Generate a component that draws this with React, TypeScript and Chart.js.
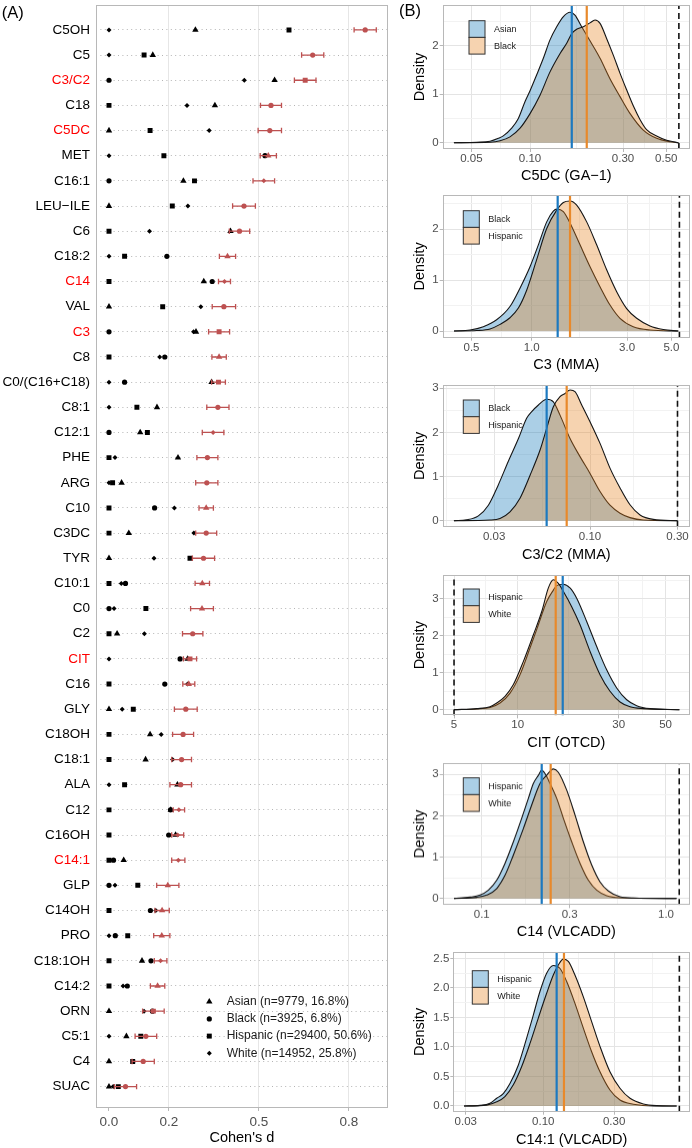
import React, { useEffect, useRef } from 'react';
import { Chart, registerables } from 'chart.js';
Chart.register(...registerables);

const FONT = '"Liberation Sans", Arial, Helvetica, sans-serif';
const RED = '#BD5151';
const BORDER = '#B8B8B8';
const GRID_MAJOR = '#E4E4E4';
const GRID_MINOR = '#F2F2F2';
const TICK_TEXT = '#4D4D4D';
const LINE_BLUE = '#1C79C0';
const LINE_ORANGE = '#E8892B';
const FILL_BLUE = 'rgba(0,110,180,0.33)';
const FILL_ORANGE = 'rgba(230,130,30,0.35)';

// ---------------- Panel A data ----------------
const categories = ['C5OH', 'C5', 'C3/C2', 'C18', 'C5DC', 'MET', 'C16:1', 'LEU\u2212ILE', 'C6', 'C18:2', 'C14', 'VAL', 'C3', 'C8', 'C0/(C16+C18)', 'C8:1', 'C12:1', 'PHE', 'ARG', 'C10', 'C3DC', 'TYR', 'C10:1', 'C0', 'C2', 'CIT', 'C16', 'GLY', 'C18OH', 'C18:1', 'ALA', 'C12', 'C16OH', 'C14:1', 'GLP', 'C14OH', 'PRO', 'C18:1OH', 'C14:2', 'ORN', 'C5:1', 'C4', 'SUAC'];
const highlighted = ['C3/C2', 'C5DC', 'C14', 'C3', 'CIT', 'C14:1'];
const asianD = [0.288, 0.146, 0.552, 0.353, 0, 0.531, 0.248, 0, 0.405, 0.395, 0.316, 0, 0.29, 0.367, 0.342, 0.16, 0.104, 0.23, 0.042, 0.324, 0.066, 0, 0.311, 0.31, 0.027, 0.262, 0.266, 0, 0.137, 0.122, 0.228, 0.206, 0.222, 0.049, 0.196, 0.177, 0.176, 0.11, 0.162, 0, 0.058, 0, 0];
const blackD = [0.854, 0.679, 0, 0.54, 0.536, 0.52, 0, 0.45, 0.435, 0.193, 0.344, 0.383, 0, 0.186, 0.052, 0.363, 0, 0.328, 0.326, 0.152, 0.324, 0.315, 0.055, 0, 0.279, 0.237, 0.186, 0.256, 0.247, 0.242, 0.239, 0.205, 0.199, 0.015, 0, 0.138, 0.021, 0.14, 0.061, 0.145, 0.123, 0.114, 0.055];
const hispanicD = [0.6, 0.117, 0.654, 0, 0.137, 0.183, 0.285, 0.211, 0, 0.052, 0, 0.179, 0.367, 0, 0.365, 0.093, 0.128, 0, 0.012, 0, 0, 0.27, 0, 0.123, 0, 0.27, 0, 0.081, 0, 0, 0.052, 0, 0, 0, 0.096, 0, 0.0625, 0, 0, 0.148, 0.106, 0.079, 0.031];
const whiteD = [0, 0, 0.451, 0.26, 0.334, 0, 0.516, 0.263, 0.135, 0, 0.385, 0.306, 0.282, 0.169, 0, 0, 0.347, 0.02, 0, 0.218, 0.283, 0.15, 0.041, 0.017, 0.118, 0, 0.262, 0.044, 0.174, 0.212, 0, 0.233, 0.229, 0.231, 0.02, 0.156, 0, 0.172, 0.047, 0.117, 0, 0.082, 0.014];
const ciHalf = [0.037, 0.037, 0.036, 0.035, 0.039, 0.027, 0.036, 0.038, 0.034, 0.027, 0.02, 0.039, 0.035, 0.024, 0.023, 0.037, 0.036, 0.035, 0.037, 0.024, 0.035, 0.037, 0.024, 0.038, 0.034, 0.022, 0.02, 0.038, 0.035, 0.033, 0.036, 0.019, 0.02, 0.022, 0.037, 0.024, 0.027, 0.021, 0.024, 0.036, 0.036, 0.037, 0.037];
const groupNames = ['Asian', 'Black', 'Hispanic', 'White'];
const groupLegend = ['Asian (n=9779, 16.8%)', 'Black (n=3925, 6.8%)', 'Hispanic (n=29400, 50.6%)', 'White (n=14952, 25.8%)'];
const xTicksA = [0, 0.2, 0.5, 0.8];
const xTickLabelsA = ['0.0', '0.2', '0.5', '0.8'];

// ---------------- Panel B data ----------------
type Pt = [number, number];
const c5dcAsian: Pt[] = [[0.0407, 0], [0.0533, 0.01], [0.0624, 0.03], [0.0688, 0.09], [0.0729, 0.14], [0.0805, 0.3], [0.0871, 0.5], [0.0943, 0.85], [0.1, 1.07], [0.1082, 1.4], [0.117, 1.74], [0.1266, 2.12], [0.137, 2.39], [0.1483, 2.6], [0.1603, 2.69], [0.17, 2.63], [0.184, 2.39], [0.203, 2.1], [0.2286, 1.74], [0.257, 1.32], [0.2895, 0.95], [0.326, 0.6], [0.381, 0.26], [0.446, 0.09], [0.523, 0.02], [0.577, 0]];
const c5dcBlack: Pt[] = [[0.0407, 0], [0.0624, 0.01], [0.0702, 0.04], [0.0789, 0.12], [0.0889, 0.3], [0.1, 0.6], [0.1125, 0.98], [0.1266, 1.46], [0.1426, 1.84], [0.1542, 2.05], [0.1637, 2.25], [0.1734, 2.34], [0.1877, 2.39], [0.203, 2.47], [0.2155, 2.53], [0.2286, 2.46], [0.247, 2.15], [0.2676, 1.8], [0.2895, 1.43], [0.313, 1.09], [0.3385, 0.76], [0.3663, 0.48], [0.396, 0.27], [0.446, 0.14], [0.502, 0.05], [0.577, 0]];
const c5dcMedians = [0.1637, 0.1954];
const c5dcCutoff = 0.58;

const c3Black: Pt[] = [[0.409, 0], [0.492, 0.02], [0.573, 0.085], [0.668, 0.22], [0.779, 0.48], [0.874, 0.84], [0.981, 1.26], [1.08, 1.69], [1.189, 2.14], [1.283, 2.35], [1.334, 2.39], [1.44, 2.34], [1.585, 2.05], [1.745, 1.69], [1.958, 1.26], [2.196, 0.87], [2.464, 0.51], [2.765, 0.25], [3.22, 0.085], [3.906, 0.02], [5.41, 0]];
const c3Hispanic: Pt[] = [[0.409, 0], [0.531, 0.01], [0.619, 0.04], [0.695, 0.13], [0.779, 0.26], [0.858, 0.45], [0.944, 0.8], [1.059, 1.4], [1.189, 2.01], [1.334, 2.37], [1.44, 2.52], [1.555, 2.55], [1.679, 2.47], [1.884, 2.14], [2.113, 1.69], [2.371, 1.2], [2.661, 0.77], [2.985, 0.44], [3.35, 0.25], [3.906, 0.1], [4.55, 0.03], [5.41, 0]];
const c3Medians = [1.349, 1.555];
const c3Cutoff = 5.48;

const c3c2Black: Pt[] = [[0.0181, 0], [0.0212, 0.02], [0.0246, 0.11], [0.0279, 0.35], [0.0316, 0.81], [0.0358, 1.34], [0.0407, 1.86], [0.0451, 2.32], [0.0481, 2.47], [0.0523, 2.62], [0.058, 2.75], [0.0631, 2.69], [0.0686, 2.39], [0.0778, 1.86], [0.0882, 1.45], [0.1, 1.07], [0.1134, 0.66], [0.1285, 0.35], [0.1458, 0.17], [0.1652, 0.07], [0.1954, 0.015], [0.3, 0]];
const c3c2Hispanic: Pt[] = [[0.0181, 0], [0.0285, 0.015], [0.0323, 0.05], [0.0366, 0.2], [0.0415, 0.51], [0.0471, 1.03], [0.0534, 1.6], [0.058, 2.09], [0.0631, 2.58], [0.0686, 2.81], [0.0731, 2.88], [0.0778, 2.96], [0.0828, 2.92], [0.0901, 2.62], [0.1, 2.24], [0.1134, 1.75], [0.1285, 1.19], [0.1458, 0.74], [0.1652, 0.36], [0.1874, 0.13], [0.2215, 0.03], [0.3, 0]];
const c3c2Medians = [0.058, 0.0746];
const c3c2Cutoff = 0.3;

const citHispanic: Pt[] = [[5.0, 0], [6.4, 0.02], [7.4, 0.06], [8.25, 0.18], [9.2, 0.45], [10.26, 0.95], [11.43, 1.67], [12.52, 2.3], [13.71, 2.93], [14.74, 3.24], [15.28, 3.36], [16.4, 3.4], [17.66, 3.3], [19.0, 3.02], [21.18, 2.39], [23.62, 1.71], [26.33, 1.08], [29.36, 0.59], [32.73, 0.27], [36.5, 0.11], [42.2, 0.03], [58.1, 0]];
const citWhite: Pt[] = [[5.0, 0], [6.4, 0.03], [7.4, 0.08], [7.96, 0.18], [8.71, 0.36], [9.54, 0.68], [10.64, 1.31], [11.86, 2.03], [12.99, 2.66], [13.96, 3.3], [14.74, 3.52], [15.56, 3.42], [16.44, 3.2], [17.99, 2.79], [19.7, 2.3], [21.97, 1.58], [24.49, 0.95], [27.3, 0.5], [30.45, 0.21], [33.95, 0.08], [39.25, 0.03], [58.1, 0]];
const citMedians = [16.32, 15.12];
const citCutoff = 5.0;

const c14Hispanic: Pt[] = [[0.0708, 0], [0.0865, 0.03], [0.098, 0.08], [0.1087, 0.2], [0.1206, 0.44], [0.1338, 0.85], [0.1485, 1.37], [0.1648, 1.94], [0.1791, 2.42], [0.1907, 2.78], [0.203, 2.98], [0.2116, 3.1], [0.2206, 3.02], [0.2348, 2.78], [0.2552, 2.42], [0.2773, 1.94], [0.3078, 1.37], [0.3416, 0.85], [0.379, 0.44], [0.4206, 0.2], [0.4767, 0.065], [0.5629, 0.016], [1.14, 0]];
const c14White: Pt[] = [[0.0708, 0], [0.094, 0.025], [0.1064, 0.08], [0.1206, 0.24], [0.1338, 0.56], [0.1485, 1.05], [0.1683, 1.69], [0.1867, 2.26], [0.2073, 2.78], [0.2253, 2.98], [0.2447, 3.13], [0.2605, 3.05], [0.2891, 2.62], [0.3208, 2.02], [0.356, 1.37], [0.395, 0.81], [0.4385, 0.4], [0.4866, 0.18], [0.5629, 0.04], [0.665, 0.01], [1.14, 0]];
const c14Medians = [0.2116, 0.2367];
const c14Cutoff = 1.18;

const c141Hispanic: Pt[] = [[0.0292, 0], [0.0374, 0.01], [0.0437, 0.045], [0.0485, 0.13], [0.0537, 0.21], [0.0596, 0.38], [0.0678, 0.69], [0.0772, 1.15], [0.0856, 1.54], [0.0949, 1.94], [0.1053, 2.25], [0.1168, 2.38], [0.1296, 2.33], [0.1437, 2.11], [0.1634, 1.74], [0.1861, 1.32], [0.2117, 0.92], [0.241, 0.58], [0.2813, 0.27], [0.3287, 0.1], [0.4044, 0.03], [0.5514, 0], [0.792, 0]];
const c141White: Pt[] = [[0.0292, 0], [0.0415, 0.015], [0.0485, 0.07], [0.0551, 0.16], [0.0628, 0.36], [0.0715, 0.67], [0.0813, 1.06], [0.0925, 1.49], [0.1053, 1.91], [0.1168, 2.22], [0.1262, 2.39], [0.1364, 2.49], [0.1474, 2.45], [0.1634, 2.22], [0.1861, 1.85], [0.2117, 1.43], [0.241, 1.01], [0.2813, 0.58], [0.3287, 0.3], [0.3841, 0.13], [0.4722, 0.034], [0.5808, 0.006], [0.792, 0]];
const c141Medians = [0.123, 0.1378];
const c141Cutoff = 0.826;

// ---------------- helpers ----------------
const groupVals = [asianD, blackD, hispanicD, whiteD];
const groupStyles = ['triangle', 'circle', 'rect', 'rectRot'];
const groupRadius = [3.7, 2.6, 3.5, 2.5];
const argmax = categories.map((_, i) => {
  let b = 0;
  for (let g = 1; g < 4; g++) if (groupVals[g][i] > groupVals[b][i]) b = g;
  return b;
});

function drawMarker(ctx: CanvasRenderingContext2D, style: string, x: number, y: number, r: number) {
  ctx.beginPath();
  if (style === 'circle') {
    ctx.arc(x, y, r, 0, Math.PI * 2);
  } else if (style === 'rect') {
    const s = r * Math.SQRT1_2;
    ctx.rect(x - s, y - s, 2 * s, 2 * s);
  } else if (style === 'triangle') {
    let a = 0;
    ctx.moveTo(x + Math.sin(a) * r, y - Math.cos(a) * r);
    a += (2 * Math.PI) / 3;
    ctx.lineTo(x + Math.sin(a) * r, y - Math.cos(a) * r);
    a += (2 * Math.PI) / 3;
    ctx.lineTo(x + Math.sin(a) * r, y - Math.cos(a) * r);
  } else {
    ctx.moveTo(x - r, y);
    ctx.lineTo(x, y - r);
    ctx.lineTo(x + r, y);
    ctx.lineTo(x, y + r);
  }
  ctx.closePath();
  ctx.fill();
}

function ggMinor(majors: number[], lo: number, hi: number, log: boolean) {
  const f = log ? Math.log10 : (v: number) => v;
  const inv = log ? (v: number) => Math.pow(10, v) : (v: number) => v;
  let b = majors.map(f);
  const bd = b[1] - b[0];
  if (f(lo) < b[0]) b = [b[0] - bd, ...b];
  if (f(hi) > b[b.length - 1]) b = [...b, b[b.length - 1] + bd];
  const mids: number[] = [];
  for (let i = 0; i < b.length - 1; i++) mids.push(inv((b[i] + b[i + 1]) / 2));
  return mids.filter((v) => v >= lo && v <= hi);
}

function zeroPad(s: any) {
  s.paddingLeft = 0;
  s.paddingRight = 0;
  s.paddingTop = 0;
  s.paddingBottom = 0;
}

function ChartCanvas({ left, top, width, height, make }: any) {
  const ref = useRef<HTMLCanvasElement>(null);
  useEffect(() => {
    const chart = new Chart(ref.current as HTMLCanvasElement, make());
    return () => chart.destroy();
  }, []);
  return (
    <canvas
      ref={ref}
      width={width}
      height={height}
      style={{ position: 'absolute', left, top, width, height }}
    />
  );
}

// ---------------- Panel A ----------------
const A_W = 392;
const A_H = 1148;
const A_PLOT_LEFT = 96;
const A_PLOT_TOP = 5;
const A_PLOT_RIGHT = 387.7;
const A_PLOT_BOTTOM = 1108;

function makePanelA(): any {
  const lh = 14.5 * 1.2;
  const maxData = categories.map((_, i) => ({ x: groupVals[argmax[i]][i], y: i }));
  const datasets: any[] = [
    {
      label: 'max',
      data: maxData,
      pointStyle: (c: any) => groupStyles[argmax[c.dataIndex]],
      pointRadius: (c: any) => groupRadius[argmax[c.dataIndex]],
      backgroundColor: RED,
      borderColor: RED,
      borderWidth: 0,
    },
  ];
  groupVals.forEach((vals, g) => {
    datasets.push({
      label: groupNames[g],
      data: categories.map((_, i) => ({ x: vals[i], y: i })).filter((_, i) => argmax[i] !== g),
      pointStyle: groupStyles[g],
      pointRadius: groupRadius[g],
      backgroundColor: '#000',
      borderColor: '#000',
      borderWidth: 0,
    });
  });

  const errPlugin = {
    id: 'errbars',
    beforeDatasetDraw(chart: any, args: any) {
      if (args.index !== 0) return;
      const { ctx, scales } = chart;
      const x = scales.x;
      const y = scales.y;
      ctx.save();
      ctx.strokeStyle = RED;
      ctx.lineWidth = 1.3;
      categories.forEach((_, i) => {
        const v = groupVals[argmax[i]][i];
        const lo = x.getPixelForValue(v - ciHalf[i]);
        const hi = x.getPixelForValue(v + ciHalf[i]);
        const py = y.getPixelForValue(i);
        ctx.beginPath();
        ctx.moveTo(lo, py);
        ctx.lineTo(hi, py);
        ctx.moveTo(lo, py - 2.7);
        ctx.lineTo(lo, py + 2.7);
        ctx.moveTo(hi, py - 2.7);
        ctx.lineTo(hi, py + 2.7);
        ctx.stroke();
      });
      ctx.restore();
    },
  };

  const decorPlugin = {
    id: 'decorA',
    afterDraw(chart: any) {
      const { ctx, chartArea: a } = chart;
      ctx.save();
      ctx.strokeStyle = BORDER;
      ctx.lineWidth = 1;
      ctx.strokeRect(Math.round(a.left) + 0.5, Math.round(a.top) + 0.5, Math.round(a.right - a.left) - 1, Math.round(a.bottom - a.top) - 1);
      // legend
      const mx = 209.3;
      const tx = 226.7;
      const y0 = 1001.7;
      const step = 17.2;
      ctx.font = `12px ${FONT}`;
      ctx.textBaseline = 'middle';
      ctx.textAlign = 'left';
      groupLegend.forEach((lab, g) => {
        ctx.fillStyle = '#000';
        drawMarker(ctx, groupStyles[g], mx, y0 + g * step, groupRadius[g]);
        ctx.fillStyle = '#1A1A1A';
        ctx.fillText(lab, tx, y0 + g * step);
      });
      ctx.restore();
    },
  };

  return {
    type: 'scatter',
    data: { datasets },
    plugins: [errPlugin, decorPlugin],
    options: {
      animation: false,
      responsive: false,
      devicePixelRatio: 1,
      events: [],
      layout: { padding: { top: A_PLOT_TOP, right: A_W - A_PLOT_RIGHT, left: 0, bottom: 0 } },
      plugins: { legend: { display: false }, tooltip: { enabled: false } },
      scales: {
        x: {
          type: 'linear',
          position: 'bottom',
          min: -0.0433,
          max: 0.929,
          afterBuildTicks: (s: any) => {
            s.ticks = xTicksA.map((v, i) => ({ value: v, lbl: xTickLabelsA[i] }));
          },
          afterFit: (s: any) => {
            s.height = A_H - A_PLOT_BOTTOM;
            zeroPad(s);
          },
          ticks: {
            autoSkip: false,
            maxRotation: 0,
            minRotation: 0,
            padding: 3.4,
            color: TICK_TEXT,
            font: { family: FONT, size: 13.5 },
            callback: (v: any, i: number, ticks: any[]) => ticks[i].lbl,
          },
          grid: {
            color: (c: any) => (c.tick && c.tick.value === 0 ? 'rgba(0,0,0,0)' : '#E6E6E6'),
            tickColor: BORDER,
            tickLength: 3,
            lineWidth: 1,
          },
          border: { display: false },
          title: {
            display: true,
            text: "Cohen's d",
            color: '#000',
            font: { family: FONT, size: 14.5 },
            padding: { top: 0, bottom: A_H - 1138.3 - lh / 2 },
          },
        },
        y: {
          type: 'linear',
          reverse: true,
          min: -0.99,
          max: 42.85,
          afterBuildTicks: (s: any) => {
            s.ticks = categories.map((_, i) => ({ value: i }));
          },
          afterFit: (s: any) => {
            s.width = A_PLOT_LEFT;
            zeroPad(s);
          },
          ticks: {
            autoSkip: false,
            padding: 6,
            color: (c: any) => (highlighted.includes(categories[c.index]) ? '#FF0000' : '#000'),
            font: { family: FONT, size: 13.5 },
            callback: (v: any, i: number) => categories[i],
          },
          grid: { drawTicks: false, color: '#B4B4B4', lineWidth: 1 },
          border: { display: false, dash: [1, 3.4] },
        },
      },
    },
  };
}

// ---------------- Panel B ----------------
const B_LEFT = 392;
const B_W = 300;
const B_PLOT_RIGHT = 690;

function bPanelConfig(cfg: any) {
  const lh = 14.5 * 1.2;
  const canvasTop = cfg.plotTop - 5;
  const canvasBottom = cfg.titleY + 12;
  const xMinor = ggMinor(cfg.xTicks, cfg.xMin, cfg.xMax, true);
  const yMinor = ggMinor(cfg.yTicks, cfg.yMin, cfg.yMax, false);
  const xTickObjs = [
    ...cfg.xTicks.map((v: number, i: number) => ({ value: v, lbl: cfg.xLabels[i], isMinor: false })),
    ...xMinor.map((v) => ({ value: v, lbl: '', isMinor: true })),
  ].sort((a, b) => a.value - b.value);
  const yTickObjs = [
    ...cfg.yTicks.map((v: number, i: number) => ({ value: v, lbl: cfg.yLabels[i], isMinor: false })),
    ...yMinor.map((v) => ({ value: v, lbl: '', isMinor: true })),
  ].sort((a, b) => a.value - b.value);
  const gridColor = (c: any) => (c.tick && c.tick.isMinor ? GRID_MINOR : GRID_MAJOR);
  const tickColor = (c: any) => (c.tick && c.tick.isMinor ? 'rgba(0,0,0,0)' : BORDER);
  const fills = [FILL_BLUE, FILL_ORANGE];
  const lines = [LINE_BLUE, LINE_ORANGE];

  const decor = {
    id: 'decorB',
    afterDatasetsDraw(chart: any) {
      const { ctx, chartArea: a, scales } = chart;
      const x = scales.x;
      ctx.save();
      ctx.beginPath();
      ctx.rect(a.left, a.top, a.right - a.left, a.bottom - a.top);
      ctx.clip();
      [0, 1].forEach((k) => {
        const px = x.getPixelForValue(cfg.medians[k]);
        ctx.strokeStyle = lines[k];
        ctx.lineWidth = 2.2;
        ctx.setLineDash([]);
        ctx.beginPath();
        ctx.moveTo(px, a.top);
        ctx.lineTo(px, a.bottom);
        ctx.stroke();
      });
      const pc = x.getPixelForValue(cfg.cutoff);
      ctx.strokeStyle = '#111';
      ctx.lineWidth = 1.6;
      ctx.setLineDash([6, 4]);
      ctx.beginPath();
      ctx.moveTo(pc, a.bottom);
      ctx.lineTo(pc, a.top);
      ctx.stroke();
      ctx.restore();

      ctx.save();
      ctx.strokeStyle = BORDER;
      ctx.lineWidth = 1;
      ctx.strokeRect(Math.round(a.left) + 0.5, Math.round(a.top) + 0.5, Math.round(a.right - a.left) - 1, Math.round(a.bottom - a.top) - 1);
      // legend
      const lx = a.left + cfg.legDx;
      const ly = a.top + cfg.legDy;
      const bw = 16;
      const bh = 16.7;
      ctx.font = `9px ${FONT}`;
      ctx.textBaseline = 'middle';
      ctx.textAlign = 'left';
      [0, 1].forEach((k) => {
        ctx.fillStyle = '#fff';
        ctx.fillRect(lx, ly + k * bh, bw, bh);
        ctx.fillStyle = fills[k];
        ctx.fillRect(lx, ly + k * bh, bw, bh);
        ctx.strokeStyle = '#333';
        ctx.lineWidth = 1;
        ctx.strokeRect(lx, ly + k * bh, bw, bh);
        ctx.fillStyle = '#1A1A1A';
        ctx.fillText(cfg.groups[k], lx + 25, ly + k * bh + bh / 2 + 0.5);
      });
      ctx.restore();
    },
  };

  const make = () => ({
    type: 'line',
    data: {
      datasets: [0, 1].map((k) => ({
        label: cfg.groups[k],
        data: cfg.curves[k].map(([x, y]: Pt) => ({ x, y })),
        borderColor: '#151515',
        borderWidth: 1.1,
        backgroundColor: fills[k],
        fill: 'origin',
        pointRadius: 0,
        cubicInterpolationMode: 'monotone',
        order: 2 - k,
      })),
    },
    plugins: [decor],
    options: {
      animation: false,
      responsive: false,
      devicePixelRatio: 1,
      events: [],
      layout: { padding: { top: cfg.plotTop - canvasTop, right: B_LEFT + B_W - B_PLOT_RIGHT, left: 0, bottom: 0 } },
      plugins: { legend: { display: false }, tooltip: { enabled: false } },
      scales: {
        x: {
          type: 'logarithmic',
          position: 'bottom',
          min: cfg.xMin,
          max: cfg.xMax,
          afterBuildTicks: (s: any) => {
            s.ticks = xTickObjs.map((t) => ({ ...t }));
          },
          afterFit: (s: any) => {
            s.height = canvasBottom - cfg.plotBottom;
            zeroPad(s);
          },
          ticks: {
            autoSkip: false,
            maxRotation: 0,
            minRotation: 0,
            padding: 0,
            color: TICK_TEXT,
            font: { family: FONT, size: 11.5 },
            callback: (v: any, i: number, ticks: any[]) => ticks[i].lbl,
          },
          grid: { color: gridColor, tickColor, tickLength: 3, lineWidth: 1 },
          border: { display: false },
          title: {
            display: true,
            text: cfg.title,
            color: '#000',
            font: { family: FONT, size: 14.5 },
            padding: { top: 0, bottom: canvasBottom - cfg.titleY - lh / 2 },
          },
        },
        y: {
          type: 'linear',
          min: cfg.yMin,
          max: cfg.yMax,
          afterBuildTicks: (s: any) => {
            s.ticks = yTickObjs.map((t) => ({ ...t }));
          },
          afterFit: (s: any) => {
            s.width = cfg.plotLeft - B_LEFT;
            zeroPad(s);
          },
          ticks: {
            autoSkip: false,
            padding: 1,
            color: TICK_TEXT,
            font: { family: FONT, size: 11.5 },
            callback: (v: any, i: number, ticks: any[]) => ticks[i].lbl,
          },
          grid: { color: gridColor, tickColor, tickLength: 3, lineWidth: 1 },
          border: { display: false },
          title: {
            display: true,
            text: 'Density',
            color: '#000',
            font: { family: FONT, size: 14.5 },
            padding: { top: 420 - B_LEFT - lh / 2, bottom: 0 },
          },
        },
      },
    },
  });
  return { make, top: canvasTop, height: canvasBottom - canvasTop };
}

const bPanels = [
  {
    groups: ['Asian', 'Black'], curves: [c5dcAsian, c5dcBlack], medians: c5dcMedians, cutoff: c5dcCutoff,
    xTicks: [0.05, 0.1, 0.3, 0.5], xLabels: ['0.05', '0.10', '0.30', '0.50'],
    yTicks: [0, 1, 2], yLabels: ['0', '1', '2'],
    xMin: 0.03565, xMax: 0.6614, yMin: -0.13, yMax: 2.839, title: 'C5DC (GA\u22121)',
    plotTop: 5, plotBottom: 149, plotLeft: 442.7, titleY: 176, legDx: 26.3, legDy: 15.7,
  },
  {
    groups: ['Black', 'Hispanic'], curves: [c3Black, c3Hispanic], medians: c3Medians, cutoff: c3Cutoff,
    xTicks: [0.5, 1, 3, 5], xLabels: ['0.5', '1.0', '3.0', '5.0'],
    yTicks: [0, 1, 2], yLabels: ['0', '1', '2'],
    xMin: 0.359, xMax: 6.19, yMin: -0.131, yMax: 2.667, title: 'C3 (MMA)',
    plotTop: 195, plotBottom: 337.7, plotLeft: 442.7, titleY: 365, legDx: 20.6, legDy: 15.7,
  },
  {
    groups: ['Black', 'Hispanic'], curves: [c3c2Black, c3c2Hispanic], medians: c3c2Medians, cutoff: c3c2Cutoff,
    xTicks: [0.03, 0.1, 0.3], xLabels: ['0.03', '0.10', '0.30'],
    yTicks: [0, 1, 2, 3], yLabels: ['0', '1', '2', '3'],
    xMin: 0.01572, xMax: 0.351, yMin: -0.136, yMax: 3.072, title: 'C3/C2 (MMA)',
    plotTop: 385, plotBottom: 526.7, plotLeft: 442.7, titleY: 555, legDx: 20.6, legDy: 15,
  },
  {
    groups: ['Hispanic', 'White'], curves: [citHispanic, citWhite], medians: citMedians, cutoff: citCutoff,
    xTicks: [5, 10, 30, 50], xLabels: ['5', '10', '30', '50'],
    yTicks: [0, 1, 2, 3], yLabels: ['0', '1', '2', '3'],
    xMin: 4.42, xMax: 65.2, yMin: -0.154, yMax: 3.649, title: 'CIT (OTCD)',
    plotTop: 575, plotBottom: 715.7, plotLeft: 442.7, titleY: 743.3, legDx: 20.6, legDy: 14,
  },
  {
    groups: ['Hispanic', 'White'], curves: [c14Hispanic, c14White], medians: c14Medians, cutoff: c14Cutoff,
    xTicks: [0.1, 0.3, 1], xLabels: ['0.1', '0.3', '1.0'],
    yTicks: [0, 1, 2, 3], yLabels: ['0', '1', '2', '3'],
    xMin: 0.0614, xMax: 1.35, yMin: -0.162, yMax: 3.274, title: 'C14 (VLCADD)',
    plotTop: 763, plotBottom: 905, plotLeft: 442.7, titleY: 931.7, legDx: 20.6, legDy: 14.7,
  },
  {
    groups: ['Hispanic', 'White'], curves: [c141Hispanic, c141White], medians: c141Medians, cutoff: c141Cutoff,
    xTicks: [0.03, 0.1, 0.3], xLabels: ['0.03', '0.10', '0.30'],
    yTicks: [0, 0.5, 1, 1.5, 2, 2.5], yLabels: ['0.0', '0.5', '1.0', '1.5', '2.0', '2.5'],
    xMin: 0.02473, xMax: 0.9745, yMin: -0.097, yMax: 2.61, title: 'C14:1 (VLCADD)',
    plotTop: 952, plotBottom: 1111.7, plotLeft: 453.3, titleY: 1140, legDx: 19, legDy: 18.7,
  },
];

export default function App() {
  const labelStyle: any = {
    position: 'absolute',
    fontFamily: FONT,
    fontSize: 16.5,
    lineHeight: 1,
    color: '#000',
    whiteSpace: 'nowrap',
  };
  return (
    <div
      style={{
        position: 'absolute',
        left: 0,
        top: 0,
        width: 692,
        height: 1148,
        overflow: 'hidden',
        background: '#fff',
      }}
    >
      <ChartCanvas left={0} top={0} width={A_W} height={A_H} make={makePanelA} />
      {bPanels.map((cfg, i) => {
        const p = bPanelConfig(cfg);
        return <ChartCanvas key={i} left={B_LEFT} top={p.top} width={B_W} height={p.height} make={p.make} />;
      })}
      <div style={{ ...labelStyle, left: 1.7, top: 3.6 }}>(A)</div>
      <div style={{ ...labelStyle, left: 399, top: 1.8 }}>(B)</div>
    </div>
  );
}
